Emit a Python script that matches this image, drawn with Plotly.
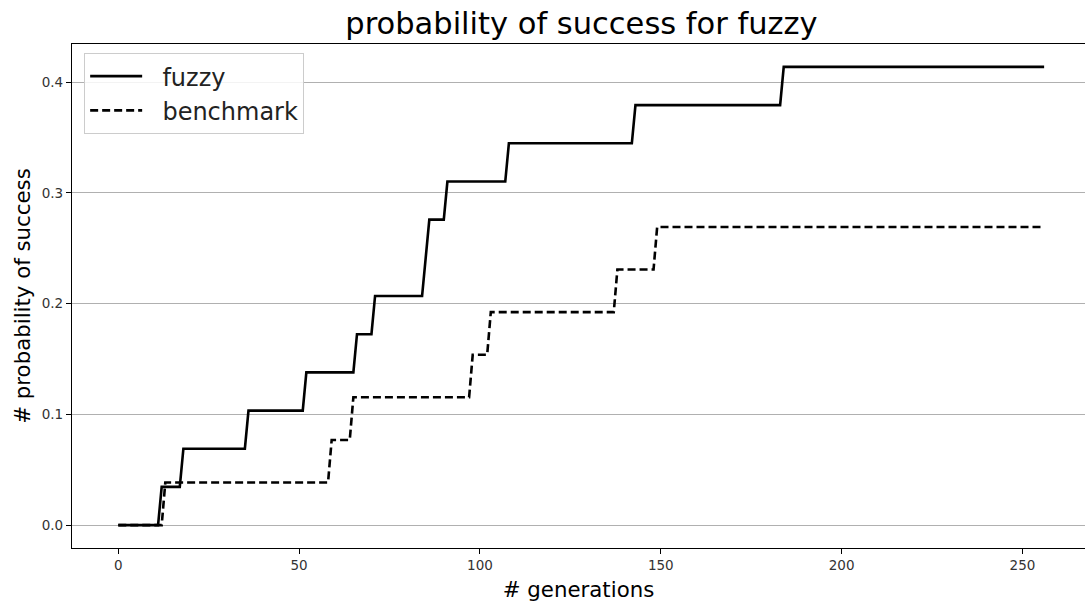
import plotly.graph_objects as go

# Generation at which each new success level is first reached, and that level
fuzzy_gen = [12, 18, 36, 52, 66, 71, 85, 86, 91, 108, 143, 184]
fuzzy_val = [0.0345, 0.0690, 0.1034, 0.1379, 0.1724, 0.2069, 0.2414,
             0.2759, 0.3103, 0.3448, 0.3793, 0.4138]

bench_gen = [13, 59, 65, 98, 103, 138, 149]
bench_val = [0.0385, 0.0769, 0.1154, 0.1538, 0.1923, 0.2308, 0.2692]

last_gen = 256

y_ticks = [0.0, 0.1, 0.2, 0.3, 0.4]
x_ticks = [0, 50, 100, 150, 200, 250]


def step_points(gens, vals, start=0.0):
    """Corner points of a per-generation curve that holds each level until the next jump."""
    xs, ys = [0], [start]
    prev = start
    for g, v in zip(gens, vals):
        xs += [g - 1, g]
        ys += [prev, v]
        prev = v
    xs.append(last_gen)
    ys.append(prev)
    return xs, ys


fx, fy = step_points(fuzzy_gen, fuzzy_val)
bx, by = step_points(bench_gen, bench_val)

FONT = "DejaVu Sans, Verdana, sans-serif"
GAP = "\u00a0\u00a0"  # padding between legend sample and label

fig = go.Figure()
fig.add_trace(go.Scatter(x=fx, y=fy, mode="lines", name=GAP + "fuzzy",
                         line=dict(color="black", width=2.6)))
fig.add_trace(go.Scatter(x=bx, y=by, mode="lines", name=GAP + "benchmark",
                         line=dict(color="black", width=2.6, dash="8px,4px")))

fig.update_layout(
    width=1085, height=603,
    margin=dict(l=72, r=0, t=44, b=55),
    paper_bgcolor="white", plot_bgcolor="white",
    font=dict(family=FONT, color="black"),
    title=dict(text="probability of success for fuzzy",
               x=581.5 / 1085, xanchor="center",
               y=1 - 23 / 603, yanchor="middle",
               font=dict(size=30.5, family=FONT, color="black")),
    showlegend=True,
    legend=dict(x=0.012, y=0.982, xanchor="left", yanchor="top",
                bgcolor="rgba(255,255,255,0.85)", bordercolor="#cccccc",
                borderwidth=1, font=dict(size=24, family=FONT, color="#222"),
                itemwidth=52, tracegroupgap=0),
)

fig.update_xaxes(
    range=[-12.8, 267.3], tickvals=x_ticks, ticktext=[str(v) for v in x_ticks],
    showgrid=False, zeroline=False,
    showline=True, linecolor="black", linewidth=1.2, mirror=True,
    ticks="outside", ticklen=5, tickcolor="black",
    tickfont=dict(size=13.5, family=FONT, color="#333"),
    title=dict(text="# generations", font=dict(size=21.3, family=FONT, color="black"),
               standoff=9),
)
fig.update_yaxes(
    range=[-0.0207, 0.4345], tickvals=y_ticks, ticktext=[f"{v:.1f}" for v in y_ticks],
    showgrid=True, gridcolor="#b0b0b0", gridwidth=1, zeroline=False,
    showline=True, linecolor="black", linewidth=1.2, mirror=False,
    ticks="outside", ticklen=5, tickcolor="black",
    tickfont=dict(size=13.5, family=FONT, color="#333"),
    title=dict(text="# probability of success", font=dict(size=21.3, family=FONT, color="black"),
               standoff=5),
)

fig.write_html("out.html")
